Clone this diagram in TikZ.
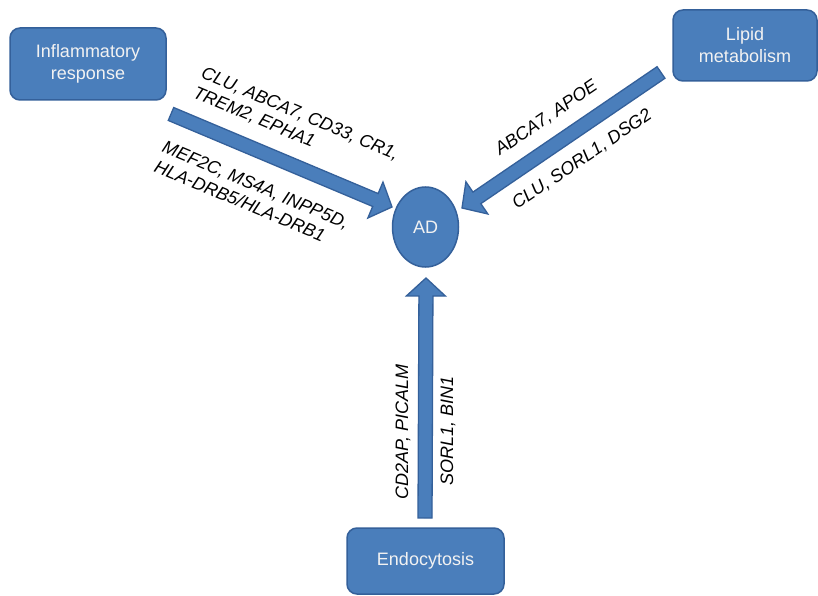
\documentclass[tikz,border=0pt]{standalone}
\usepackage{fontspec}
\setmainfont{Liberation Sans}
\usetikzlibrary{calc,shapes.geometric}
\definecolor{boxfill}{HTML}{4A7EBB}
\definecolor{boxline}{HTML}{34609A}
\definecolor{boxtext}{HTML}{F2F2F2}
\tikzset{
  procbox/.style={draw=boxline, fill=boxfill, line width=1.5pt, rounded corners=10pt,
    text=boxtext, align=center, font=\fontsize{18}{22}\selectfont, inner sep=0pt},
  blockarr/.style={draw=boxline, fill=boxfill, line width=1.3pt, line join=miter},
  genes/.style={font=\fontsize{18}{21}\selectfont\itshape, text=black, inner sep=0pt, align=left},
}
\newcommand\blockarrow[2]{%
  \coordinate (#1#2b) at ($(#2)!18pt!(#1)$);
  \path[blockarr] ($(#1)!7pt!90:(#2)$) -- ($(#1#2b)!7pt!90:(#2)$)
    -- ($(#1#2b)!19.5pt!90:(#2)$) -- (#2) -- ($(#1#2b)!19.5pt!-90:(#2)$)
    -- ($(#1#2b)!7pt!-90:(#2)$) -- ($(#1)!7pt!-90:(#2)$) -- cycle;
}
\begin{document}
\begin{tikzpicture}[x=1pt,y=-1pt]
\useasboundingbox (0,0) rectangle (818,596);
\fill[white] (0,0) rectangle (818,596);

% boxes
\node[procbox, minimum width=156pt, minimum height=72pt] (inf) at (88,64) {Inflammatory\\response};
\node[procbox, minimum width=144pt, minimum height=71pt] (lip) at (745,45.5) {Lipid\\metabolism};
\node[procbox, minimum width=157pt, minimum height=66pt] (endo) at (425.5,561) {Endocytosis};
\node[draw=boxline, fill=boxfill, line width=1.5pt, ellipse, minimum width=66pt, minimum height=80pt,
  inner sep=0pt, text=boxtext, font=\fontsize{18}{22}\selectfont] (ad) at (425.5,227) {AD};

% arrow ends
\coordinate (infT) at (171,114);
\coordinate (infH) at (392,207);
\coordinate (lipT) at (661,72.5);
\coordinate (lipH) at (462,208);
\coordinate (endT) at (425,518);
\coordinate (endH) at (426,278);

\blockarrow{infT}{infH}
\blockarrow{lipT}{lipH}
\blockarrow{endT}{endH}

% gene labels
\node[genes, rotate=-22.8, anchor=north west] (g1) at (205,66) {CLU, ABCA7, CD33, CR1,\\TREM2, EPHA1};
\node[genes, rotate=-22.8, anchor=north west] (g2) at (166,140) {MEF2C, MS4A, INPP5D,\\HLA-DRB5/HLA-DRB1};
\node[genes, rotate=34.2, anchor=base west] (g3) at (500,156) {ABCA7, APOE};
\node[genes, rotate=34.2, anchor=base west] (g4) at (517,210) {CLU, SORL1, DSG2};
\node[genes, rotate=90] (g5) at (403,432) {CD2AP, PICALM};
\node[genes, rotate=90] (g6) at (448,431) {SORL1, BIN1};
\end{tikzpicture}
\end{document}
